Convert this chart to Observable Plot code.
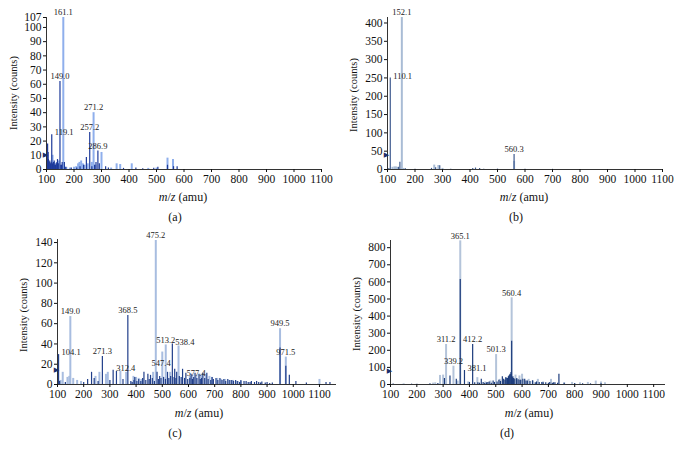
<!DOCTYPE html>
<html><head><meta charset="utf-8">
<script src="https://cdn.jsdelivr.net/npm/d3@7"></script>
<script src="https://cdn.jsdelivr.net/npm/@observablehq/plot@0.6"></script>
<style>
body{margin:0;background:#fff;font-family:"Liberation Serif","Times New Roman",serif;}
#wrap{position:relative;width:682px;height:454px;overflow:hidden;background:#fff;}
.panel{position:absolute;}
.lbl{position:absolute;transform:translate(-50%,-50%);font-size:12px;white-space:nowrap;color:#111;}
.ylbl{position:absolute;transform:translate(-50%,-50%) rotate(-90deg);font-size:10.5px;white-space:nowrap;color:#111;}
</style></head><body><div id="wrap"></div>
<script>
// ---------- data ----------
const xTicks = [100,200,300,400,500,600,700,800,900,1000,1100];

// (a)
const aLightMz = [102,108,113,122,128,137,145,161.1,172,185,200,208,215,220,226,232,238,250,265,271.2,278,300,335,355,368,410,470,500,540,560];
const aLightI  = [6,4,3,10,5,4,6,107,1.5,1,1.5,2,4,5,6,4,3,4,5,40,3,12,1,4,3.5,4,0.8,1,8,7];
const aDarkMz = [101,102,104,106,107,110,112,115,117,119.1,122,125,128,130,133,135,138,140,143,149.0,152,155,157,165,170,190,210,222,235,245,257.2,265,275,280,286.9,292,315,325,380,425,450,490,505,540,562,575];
const aDarkI  = [10,8,18,12,7,5,6,4,5,24.5,4,5,6,3,3,4,5,7,4,62,3,3,5,5,1.5,1,1,2,3,8.5,26,2,3,5,13,4,2,1,0.8,1,0.6,0.8,1.5,3,2,2];
const aLabelMz = [161.1,149.0,271.2,257.2,286.9,119.1];
const aLabelI  = [107,62,40,26,13,24.5];
const aLabelT  = ["161.1","149.0","271.2","257.2","286.9","119.1"];
const aYTicks = [0,10,20,30,40,50,60,70,80,90,100,107];
const aThreshold = 10.6;

// (b)
const bLightMz = [118,125,130,135,152.1,158,270,285,300,560.3];
const bLightI  = [6,7,7,6,415,3,12,11,3,22];
const bDarkMz = [105,110.1,140,145,165,200,260,275,290,330,410,420,435,450,500,560.3,600,700];
const bDarkI  = [3,250,6,20,2,1,3,5,10,1,3,4,3,1,1,41,1,0.5];
const bLabelMz = [152.1,110.1,560.3];
const bLabelI  = [415,250,41];
const bLabelT  = ["152.1","110.1","560.3"];
const bYTicks = [0,50,100,150,200,250,300,350,400];
const bThreshold = 41;

// (c)
const cLightMz = [112,120,138,145,149.0,160,175,190,245,260,285,292,340,362,390,400,410,420,465,475.2,500,513.2,530,562,605,615,630,645,650,665,680,690,710,725,740,755,770,785,800,949.5,971.5,1100];
const cLightI  = [4,12,7,8,67,6,4,3,8,12,10,12,13,12,8,7,6,5,12,142,32,39,12,38,8,9,9,10,10,9,8,7,6,5,5,4,4,3,3,55,27,5];
const cDarkMz = [101,104.1,108,130,200,215,230,240,255,271.3,300,312.4,325,350,368.5,380,385,392,395,403,410,418,425,430,437,445,450,455,462,470,480,485,490,495,505,512,520,525,532,538.4,545,547.4,552,555,565,572,577.4,585,590,597,605,610,615,620,625,632,640,645,650,655,662,670,675,685,690,695,705,712,720,728,735,742,750,758,765,772,780,788,795,800,812,820,828,835,840,852,860,868,875,880,893,900,910,920,949.5,971.5,985,1010,1050,1125,1140];
const cDarkI  = [8,29.5,3,2,2,5,12,6,3,27.5,4,14,13,5,68,3,2,4,7,3,5,3,6,12,4,10,5,9,6,3,12,5,8,6,7,5,12,6,8,40,7,15,6,12,8,7,15,6,11,5,6,10,5,7,11,6,10,5,6,11,6,11,5,4,7,5,6,4,6,4,5,3,5,4,4,3,4,3,2,4,3,3,2,2,3,2,3,2,1.5,2.5,1.5,2,1,1.5,36,18,9,3,1.5,2,2];
const cLabelMz = [475.2,149.0,368.5,271.3,949.5,971.5,513.2,104.1,312.4,538.4,547.4,577.4];
const cLabelI  = [142,67,68,27.5,55,27,39,29.5,14,40,15,15];
const cLabelT  = ["475.2","149.0","368.5","271.3","949.5","971.5","513.2","104.1","312.4","538.4","547.4","577.4"];
const cYTicks = [0,20,40,60,80,100,120,140];
const cThreshold = 14.4;

// (d)
const dLightMz = [150,200,262,270,288,300,311.2,339.2,355,365.1,395,430,460,480,501.3,515,540,560.4,575,590,600,625,640,660,680,710,760,790,820,850,880,900,915];
const dLightI  = [4,3,8,10,53,55,234,107,20,840,15,40,15,20,175,30,40,507,55,50,60,30,20,30,15,30,10,12,10,12,20,15,10];
const dDarkMz = [110,180,250,280,305,326,350,365.1,381.1,400,412.2,420,432,438,445,452,458,465,470,475,483,490,495,505,512,518,525,530,535,538,542,545,548,550,553,555,558,560.4,563,565,568,570,578,580,585,592,595,603,610,615,620,630,640,650,655,665,675,680,690,700,705,715,720,725,735,740,760,800,830,860,900];
const dDarkI  = [3,2,5,6,35,50,30,614,82,12,234,10,10,8,30,12,6,10,12,15,8,20,12,15,25,18,45,30,25,40,35,35,45,50,55,60,70,253,40,45,35,30,30,35,28,25,25,30,30,20,20,18,22,10,15,12,12,10,10,8,12,8,10,10,8,60,8,6,5,4,5];
const dLabelMz = [365.1,560.4,311.2,412.2,501.3,339.2,381.1];
const dLabelI  = [840,507,234,234,175,107,82];
const dLabelT  = ["365.1","560.4","311.2","412.2","501.3","339.2","381.1"];
const dYTicks = [0,100,200,300,400,500,600,700,800];
const dThreshold = 78;

// ---------- rendering ----------
const FONT = "Liberation Serif";
// label placement: c = centered above, r = to the right, l = to the left
const placement = {
  a: ["c","c","c","c","c","r"],
  b: ["c","r","c"],
  c: ["c","c","c","c","c","c","c","r","r","r","l","rl"],
  d: ["c","c","c","c","c","c","r"]
};

function panel(o) {
  const light = o.lMz.map((x,i)=>({x, y:o.lI[i]}));
  const dark = o.dMz.map((x,i)=>({x, y:o.dI[i]}));
  const labs = o.labMz.map((x,i)=>({x, y:o.labI[i], t:o.labT[i], p:o.place[i]}));
  const tf = {x:"x", y:"y", text:"t", fontSize:8.5, fontFamily:FONT, fill:"#222"};
  return Plot.plot({
    width: 341, height: o.h,
    marginLeft: o.ml, marginRight: o.mr, marginTop: o.mt, marginBottom: o.mb,
    x: {domain: o.xd},
    y: {domain: o.yd},
    style: {fontFamily: FONT, fontSize: "12px", background: "transparent", color: "#111", overflow: "visible"},
    marks: [
      Plot.ruleX(light, {x:"x", y1:0, y2:"y", stroke:o.lc, strokeWidth:2}),
      Plot.ruleX(dark, {x:"x", y1:0, y2:"y", stroke:o.dc, strokeWidth:1.2}),
      Plot.ruleY([0], {stroke:"#333", strokeWidth:1}),
      Plot.ruleX([o.xd[0]], {stroke:"#333", strokeWidth:1}),
      Plot.axisY({ticks:o.yt, tickFormat:"d", tickSize:3, tickPadding:2, label:null, fontSize:11.5, fontFamily:FONT}),
      Plot.axisX({ticks:xTicks, tickFormat:"d", tickSize:3, tickPadding:2, label:null, fontSize:11.5, fontFamily:FONT}),
      Plot.text(labs.filter(d=>d.p==="c"), {...tf, dy:-5, textAnchor:"middle"}),
      Plot.text(labs.filter(d=>d.p==="r"), {...tf, dx:3, dy:-2, textAnchor:"start"}),
      Plot.text(labs.filter(d=>d.p==="l"), {...tf, dx:-4, dy:-6, textAnchor:"end"}),
      Plot.text(labs.filter(d=>d.p==="rl"), {...tf, dx:4, dy:4, textAnchor:"start"}),
      Plot.text([{x:o.xd[0], y:o.thr}], {x:"x", y:"y", text:()=>"\u25B6", fontSize:7, fontFamily:"DejaVu Sans", fill:"#1b2f6b", dx:-1})
    ]
  });
}

const wrap = document.getElementById("wrap");
function place(el, left, top) {
  const d = document.createElement("div");
  d.className = "panel"; d.style.left = left+"px"; d.style.top = top+"px";
  d.appendChild(el); wrap.appendChild(d);
}
function label(cls, html, x, y) {
  const d = document.createElement("div");
  d.className = cls; d.innerHTML = html; d.style.left = x+"px"; d.style.top = y+"px";
  wrap.appendChild(d);
}

place(panel({lMz:aLightMz,lI:aLightI,dMz:aDarkMz,dI:aDarkI,labMz:aLabelMz,labI:aLabelI,labT:aLabelT,place:placement.a,
  yt:aYTicks,thr:aThreshold,xd:[100,1100],yd:[0,107],h:187,ml:46,mr:20,mt:17,mb:18,lc:"#8fafec",dc:"#1d3a9a"}), 0, 0);
place(panel({lMz:bLightMz,lI:bLightI,dMz:bDarkMz,dI:bDarkI,labMz:bLabelMz,labI:bLabelI,labT:bLabelT,place:placement.b,
  yt:bYTicks,thr:bThreshold,xd:[100,1100],yd:[0,415],h:187,ml:46,mr:20,mt:17,mb:18,lc:"#a9bcd5",dc:"#3f5b8f"}), 341, 0);
place(panel({lMz:cLightMz,lI:cLightI,dMz:cDarkMz,dI:cDarkI,labMz:cLabelMz,labI:cLabelI,labT:cLabelT,place:placement.c,
  yt:cYTicks,thr:cThreshold,xd:[100,1165],yd:[0,143],h:177,ml:57,mr:5,mt:12,mb:20,lc:"#a8bde0",dc:"#213f8a"}), 0, 227);
place(panel({lMz:dLightMz,lI:dLightI,dMz:dDarkMz,dI:dDarkI,labMz:dLabelMz,labI:dLabelI,labT:dLabelT,place:placement.d,
  yt:dYTicks,thr:dThreshold,xd:[100,1145],yd:[0,842],h:177,ml:49,mr:17,mt:13,mb:20,lc:"#b4c4da",dc:"#1c3c7c"}), 341, 227);

const mz = "<i>m</i>/<i>z</i> (amu)";
label("ylbl","Intensity (counts)",13,93);
label("lbl",mz,183,197); label("lbl","(a)",175,217);
label("ylbl","Intensity (counts)",353,95);
label("lbl",mz,524,197); label("lbl","(b)",516,217);
label("ylbl","Intensity (counts)",23,315);
label("lbl",mz,199,413); label("lbl","(c)",175,433);
label("ylbl","Intensity (counts)",356,314);
label("lbl",mz,529,413); label("lbl","(d)",507,433);
</script></body></html>
